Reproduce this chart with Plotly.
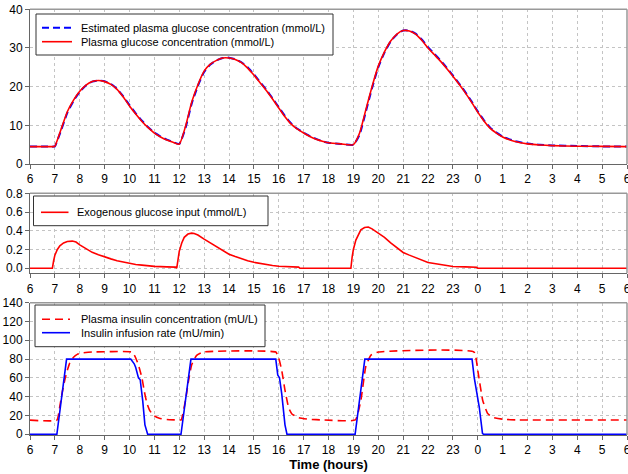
import plotly.graph_objects as go

# ---------------- data ----------------
t_glu = [6.0, 6.5, 6.95, 7.0, 7.25, 7.5, 7.75, 8.0, 8.25, 8.5, 8.75, 9.0, 9.25, 9.5, 9.75,
         10.0, 10.25, 10.5, 10.75, 11.0, 11.25, 11.5, 11.75, 12.0, 12.25, 12.5, 12.75, 13.0,
         13.25, 13.5, 13.75, 14.0, 14.25, 14.5, 14.75, 15.0, 15.25, 15.5, 15.75, 16.0, 16.25,
         16.5, 16.75, 17.0, 17.25, 17.5, 17.75, 18.0, 18.5, 19.0, 19.25, 19.5, 19.75, 20.0,
         20.25, 20.5, 20.75, 21.0, 21.25, 21.5, 21.75, 22.0, 22.25, 22.5, 22.75, 23.0, 23.25,
         23.5, 23.75, 24.0, 24.25, 24.5, 24.75, 25.0, 25.5, 26.0, 26.5, 27.0, 28.0, 29.0, 30.0]
glucose = [4.5, 4.5, 4.5, 4.6, 9.0, 13.5, 16.5, 18.8, 20.4, 21.3, 21.6, 21.3, 20.6, 19.3, 17.3,
           15.0, 12.9, 11.0, 9.4, 8.0, 7.0, 6.2, 5.6, 5.1, 9.7, 16.0, 20.5, 24.0,
           25.8, 26.8, 27.4, 27.4, 27.0, 26.2, 24.8, 23.0, 21.0, 19.0, 16.8, 14.5, 12.2,
           10.3, 9.0, 8.0, 7.1, 6.4, 5.9, 5.5, 5.2, 5.0, 8.0, 14.0, 20.0, 25.3,
           29.0, 31.8, 33.6, 34.5, 34.4, 33.6, 32.0, 30.0, 28.3, 26.6, 24.7, 22.7, 20.6,
           18.4, 16.0, 13.4, 11.1, 9.2, 8.0, 7.0, 5.8, 5.2, 4.9, 4.75, 4.6, 4.55, 4.5]
glucose_est = [4.5, 4.5, 4.5, 4.55, 8.7, 13.2, 16.3, 18.7, 20.3, 21.3, 21.6, 21.4, 20.7, 19.4, 17.5,
               15.2, 13.1, 11.2, 9.5, 8.1, 7.1, 6.3, 5.7, 5.2, 9.3, 15.6, 20.2, 23.8,
               25.7, 26.8, 27.4, 27.5, 27.1, 26.3, 25.0, 23.2, 21.2, 19.2, 17.0, 14.7, 12.4,
               10.5, 9.1, 8.1, 7.2, 6.5, 5.9, 5.5, 5.2, 5.0, 7.6, 13.5, 19.6, 25.0,
               28.8, 31.7, 33.5, 34.5, 34.5, 33.7, 32.2, 30.2, 28.5, 26.8, 24.9, 22.9, 20.8,
               18.6, 16.2, 13.6, 11.3, 9.4, 8.1, 7.1, 5.9, 5.3, 4.95, 4.8, 4.65, 4.55, 4.5]

t_exo = [6.0, 6.9, 6.95, 7.0, 7.1, 7.2, 7.35, 7.5, 7.7, 7.85, 8.0, 8.25, 8.5, 8.75, 9.0, 9.25,
         9.5, 9.75, 10.0, 10.25, 10.5, 10.75, 11.0, 11.5, 11.85, 11.9, 11.95, 12.0, 12.1, 12.2,
         12.35, 12.5, 12.6, 12.75, 13.0, 13.25, 13.5, 13.75, 14.0, 14.25, 14.5, 14.75, 15.0,
         15.25, 15.5, 15.75, 16.0, 16.5, 16.8, 16.85, 18.9, 18.95, 19.0, 19.1, 19.2, 19.3,
         19.45, 19.6, 19.75, 20.0, 20.25, 20.5, 20.75, 21.0, 21.25, 21.5, 21.75, 22.0, 22.25,
         22.5, 22.75, 23.0, 23.5, 23.95, 24.0, 30.0]
exo_input = [0.0, 0.0, 0.08, 0.14, 0.2, 0.24, 0.27, 0.285, 0.29, 0.28, 0.25, 0.21, 0.17, 0.145, 0.12, 0.1,
             0.08, 0.065, 0.05, 0.04, 0.033, 0.025, 0.02, 0.015, 0.012, 0.0, 0.1, 0.18, 0.27, 0.33,
             0.365, 0.375, 0.37, 0.355, 0.31, 0.27, 0.23, 0.19, 0.15, 0.125, 0.1, 0.08, 0.063,
             0.05, 0.04, 0.03, 0.022, 0.015, 0.012, 0.0, 0.0, 0.12, 0.2, 0.3, 0.36, 0.41,
             0.435, 0.44, 0.42, 0.376, 0.33, 0.27, 0.215, 0.168, 0.14, 0.114, 0.085, 0.062, 0.05,
             0.037, 0.025, 0.018, 0.015, 0.01, 0.0, 0.0]

t_ins = [6.0, 7.08, 7.2, 7.3, 7.4, 7.5, 7.6, 7.75, 7.9, 8.1, 8.5, 10.1, 10.2, 10.3, 10.4, 10.5,
         10.6, 10.7, 10.8, 10.9, 11.0, 11.2, 11.5, 12.0, 12.08, 12.25, 12.38, 12.5, 12.7, 12.95,
         15.88, 15.99, 16.12, 16.25, 16.4, 16.53, 16.8, 17.2, 17.8, 19.08, 19.3, 19.5, 19.7,
         20.0, 23.85, 24.0, 24.2, 24.4, 24.6, 25.0, 25.6, 30.0]
plasma_insulin = [15, 15, 30, 45, 58, 68, 76, 82, 85, 86.5, 87.5, 87.5, 84, 78, 70, 60,
                  45, 33, 26, 22, 19.5, 17, 15.7, 15.2, 15.2, 36, 58, 74, 84, 87.5,
                  87.5, 82, 68, 47, 28, 21.6, 17.7, 16, 15.2, 15.2, 36, 72, 84,
                  87.5, 87.5, 68, 36, 22, 18, 16, 15.2, 15.2]

t_inf = [6.0, 7.08, 7.47, 10.05, 10.19, 10.25, 10.36, 10.43, 10.53, 10.62, 10.73, 12.07, 12.47,
         15.88, 15.96, 16.03, 16.12, 16.25, 16.33, 19.07, 19.46, 23.77, 23.86, 24.06, 24.19, 24.23, 30.0]
infusion_rate = [0, 0, 80, 80, 75, 71, 60, 58, 36, 10, 0, 0, 80,
                 80, 63, 60, 43, 10, 0, 0, 80, 80, 60, 29, 1, 0, 0]

hour_ticks = list(range(6, 31))
hour_labels = [str(h % 24) for h in hour_ticks]

names = ["Estimated plasma glucose concentration (mmol/L)",
         "Plasma glucose concentration (mmol/L)",
         "Exogenous glucose input (mmol/L)",
         "Plasma insulin concentration (mU/L)",
         "Insulin infusion rate (mU/min)"]

# ---------------- figure ----------------
FONT = "Arial, Liberation Sans, sans-serif"
RED = "#ff0000"
BLUE = "#0000ff"
DASH_B = "7px,4px"
DASH_R = "8px,5px"

styles = [dict(color=BLUE, width=2, dash=DASH_B),
          dict(color=RED, width=1.6),
          dict(color=RED, width=1.6),
          dict(color=RED, width=1.6, dash=DASH_R),
          dict(color=BLUE, width=1.6)]

fig = go.Figure()
fig.add_trace(go.Scatter(x=t_glu, y=glucose_est, mode="lines", name=names[0],
                         line=dict(styles[0], shape="spline", smoothing=0.5), xaxis="x", yaxis="y"))
fig.add_trace(go.Scatter(x=t_glu, y=glucose, mode="lines", name=names[1],
                         line=dict(styles[1], shape="spline", smoothing=0.5), xaxis="x", yaxis="y"))
fig.add_trace(go.Scatter(x=t_exo, y=exo_input, mode="lines", name=names[2],
                         line=styles[2], xaxis="x2", yaxis="y2"))
fig.add_trace(go.Scatter(x=t_ins, y=plasma_insulin, mode="lines", name=names[3],
                         line=dict(styles[3], shape="spline", smoothing=0.4), xaxis="x3", yaxis="y3"))
fig.add_trace(go.Scatter(x=t_inf, y=infusion_rate, mode="lines", name=names[4],
                         line=styles[4], xaxis="x3", yaxis="y3"))

W, H = 628, 474
L, R = 30, 1
PW = W - L - R
def fy(px):
    return 1 - px / H
def fx(px):
    return (px - L) / PW

axis_common = dict(showgrid=True, gridcolor="#c4c4c4", griddash="dot", gridwidth=1,
                   showline=True, linecolor="#666666", linewidth=1,
                   ticks="outside", ticklen=4, tickcolor="#666666", automargin=False,
                   tickfont=dict(family=FONT, size=12, color="black"), zeroline=False)

xcommon = dict(axis_common, range=[6, 30], tickmode="array", tickvals=hour_ticks, ticktext=hour_labels,
               ticklabeloverflow="allow")

fig.update_layout(
    width=W, height=H,
    margin=dict(l=L, r=R, t=0, b=0),
    plot_bgcolor="white", paper_bgcolor="white",
    font=dict(family=FONT, size=12, color="black"),
    showlegend=False,
    xaxis=dict(xcommon, anchor="y", domain=[0, 1]),
    xaxis2=dict(xcommon, anchor="y2", domain=[0, 1]),
    xaxis3=dict(xcommon, anchor="y3", domain=[0, 1],
                title=dict(text="<b>Time (hours)</b>", font=dict(family=FONT, size=13), standoff=2)),
    yaxis=dict(axis_common, anchor="x", domain=[fy(164), fy(9.3)], range=[0, 40], tickvals=[0, 10, 20, 30, 40]),
    yaxis2=dict(axis_common, anchor="x2", domain=[fy(273.3), fy(193.3)], range=[-0.054, 0.8],
                tickvals=[0, 0.2, 0.4, 0.6, 0.8], ticktext=["0.0", "0.2", "0.4", "0.6", "0.8"]),
    yaxis3=dict(axis_common, anchor="x3", domain=[fy(435), fy(302.7)], range=[-0.8, 140],
                tickvals=[0, 20, 40, 60, 80, 100, 120, 140]),
)

# top/right frame lines (lighter grey)
for xr, yr in [("x domain", "y domain"), ("x2 domain", "y2 domain"), ("x3 domain", "y3 domain")]:
    fig.add_shape(type="line", xref=xr, yref=yr, x0=0, x1=1, y0=1, y1=1, line=dict(color="#999999", width=1.5))
    fig.add_shape(type="line", xref=xr, yref=yr, x0=1, x1=1, y0=0, y1=1, line=dict(color="#999999", width=1.5))

# legend boxes drawn as shapes + text (pixel layout)
legend_boxes = [
    dict(box=(36, 14, 333, 55), sample=(42, 72), text_x=80, rows=[(27.7, 0), (41.7, 1)]),
    dict(box=(33.5, 196, 268, 225.7), sample=(41, 68.5), text_x=76, rows=[(212.3, 2)]),
    dict(box=(35, 305, 265, 346.7), sample=(42, 70), text_x=80, rows=[(319.3, 3), (332.7, 4)]),
]
for lb in legend_boxes:
    x0, y0, x1, y1 = lb["box"]
    fig.add_shape(type="rect", xref="paper", yref="paper", x0=fx(x0), x1=fx(x1), y0=fy(y1), y1=fy(y0),
                  line=dict(color="#333333", width=1), fillcolor="white", layer="above")
    for ypx, idx in lb["rows"]:
        sx0, sx1 = lb["sample"]
        fig.add_shape(type="line", xref="paper", yref="paper", x0=fx(sx0), x1=fx(sx1), y0=fy(ypx), y1=fy(ypx),
                      line=styles[idx], layer="above")
        fig.add_annotation(xref="paper", yref="paper", x=fx(lb["text_x"]), y=fy(ypx), text=names[idx],
                           showarrow=False, xanchor="left", yanchor="middle", xshift=-1,
                           font=dict(family=FONT, size=11, color="black"))

fig.write_html("out.html", config={"displayModeBar": False},
               post_script="document.body.style.margin='0';document.body.style.overflow='hidden';")
